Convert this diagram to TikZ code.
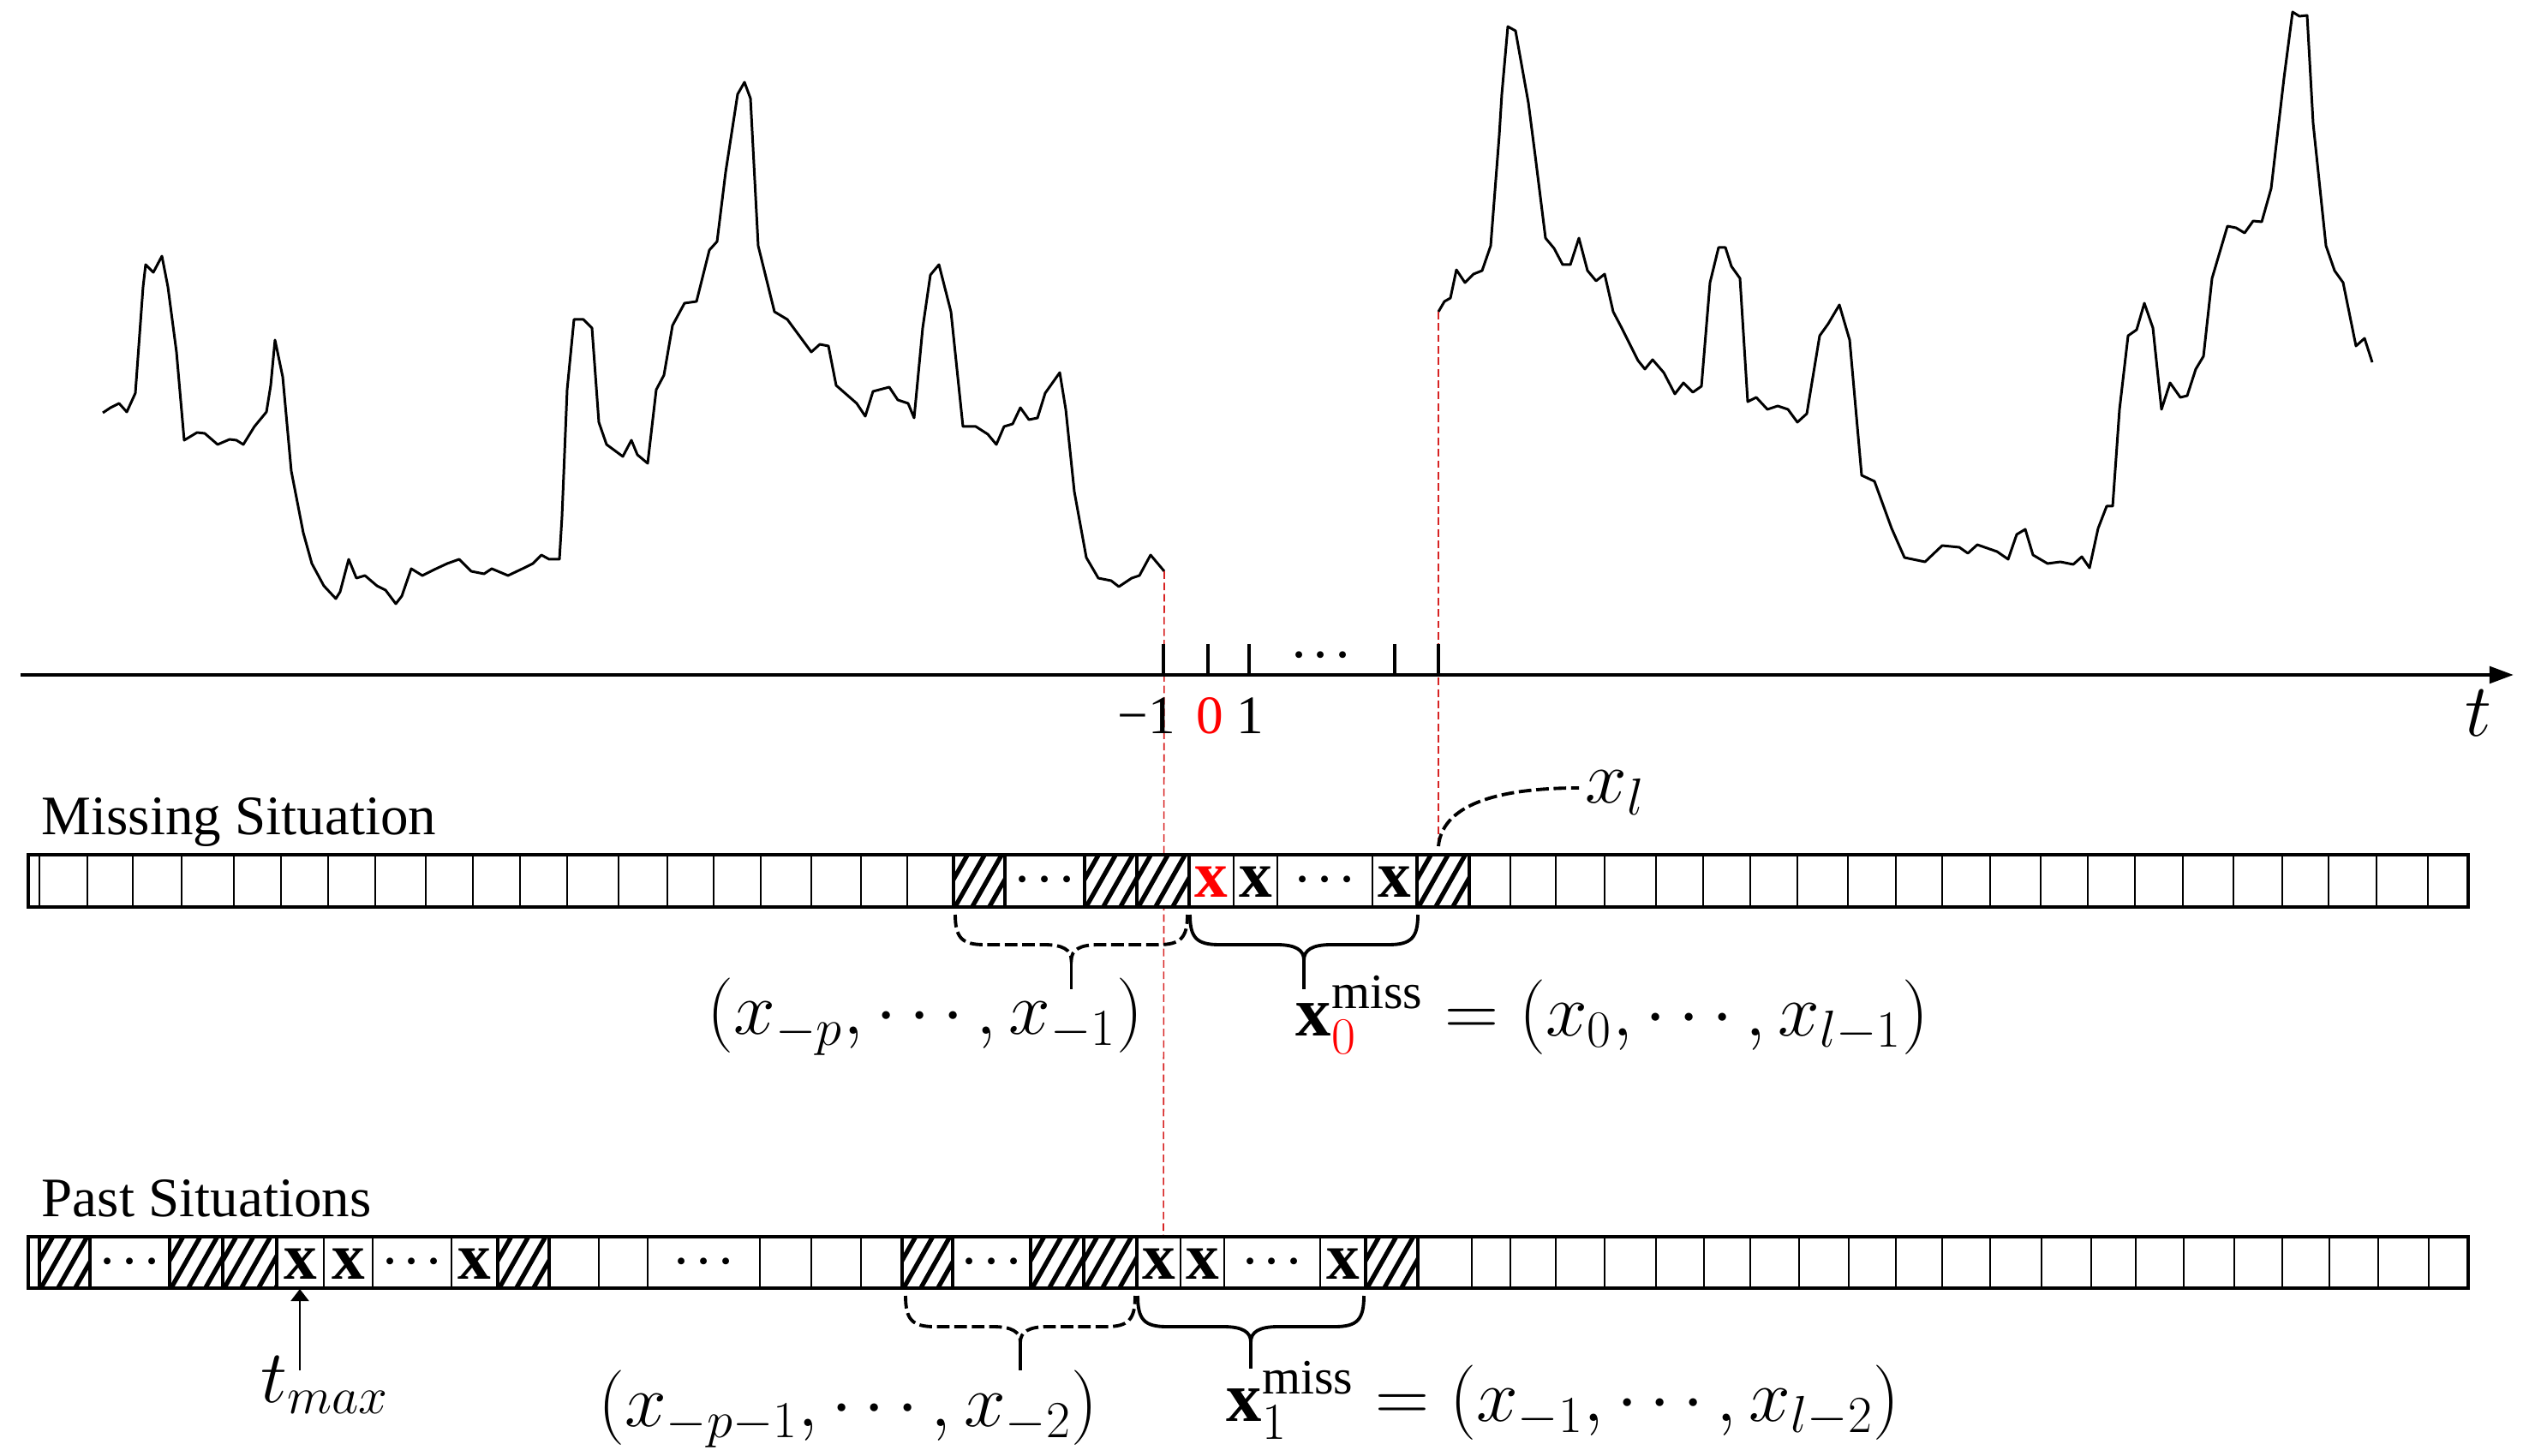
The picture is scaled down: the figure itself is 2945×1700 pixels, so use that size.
\documentclass[tikz,border=0pt]{standalone}
\usepackage{fontspec}
\setmainfont{Liberation Serif}
\usetikzlibrary{arrows.meta}
\definecolor{refred}{RGB}{255,0,0}
\definecolor{dashred}{RGB}{215,35,35}
\newcommand\hatchcell[4]{%
  \begin{scope}
    \clip (#1,#3) rectangle (#2,#4);
    \foreach \k in {-2,...,3} \draw[hatchline] ({#1+\k*20},#4+3) -- ++(38,-67);
  \end{scope}
  \draw[hatchframe] (#1,#3) rectangle (#2,#4);}
\newcommand\curlyb[7]{% style, xL, xR, ytop, yend, hoff, tipname
  \pgfmathsetmacro\cbm{(#2+#3)/2}
  \pgfmathsetmacro\cbh{#4+#6}
  \pgfmathsetmacro\cbt{#4+#6+18}
  \draw[#1] (#2,#4) .. controls (#2,#4+#6-8) and (#2+8,\cbh) .. (#2+34,\cbh) -- (\cbm-32,\cbh) .. controls (\cbm-10,\cbh) and (\cbm,\cbh+6) .. (\cbm,\cbt) .. controls (\cbm,\cbh+6) and (\cbm+10,\cbh) .. (\cbm+32,\cbh) -- (#3-34,\cbh) .. controls (#3-8,\cbh) and (#3,#4+#6-8) .. (#3,#4);
  \coordinate (#7) at (\cbm,\cbt);
  \draw[bracesolid] (#7) -- (\cbm,#5);}
\begin{document}
\begin{tikzpicture}[x=0.1mm,y=-0.1mm,
  curve/.style={line width=0.85pt, line join=round},
  axisline/.style={line width=1.3pt, -{Triangle[length=8pt,width=5.5pt]}},
  tickmark/.style={line width=1.1pt},
  barframe/.style={line width=1.1pt},
  sep/.style={line width=0.4pt},
  hatchline/.style={line width=1.5pt},
  hatchframe/.style={line width=1.2pt},
  reddash/.style={dashred, line width=0.45pt, dash pattern=on 2.5pt off 1.3pt},
  bracedash/.style={line width=1.1pt, dash pattern=on 4.2pt off 1.6pt},
  bracesolid/.style={line width=1.1pt},
  celltext/.style={font=\fontsize{22}{24}\selectfont\bfseries, inner sep=0pt},
  celldots/.style={font=\fontsize{14}{16}\selectfont\boldmath, inner sep=0pt},
  lab/.style={font=\fontsize{23.5}{26}\selectfont, inner sep=0pt},
  titletext/.style={font=\fontsize{18.5}{22}\selectfont, inner sep=0pt},
  ticklab/.style={font=\fontsize{18}{20}\selectfont, inner sep=0pt}]
\useasboundingbox (0,0) rectangle (2945,1700);

% ---------- time series ----------
\draw[curve] plot coordinates {(120,482) (129,476) (139,471) (148,481) (158,459) (167,335) (170,309) (179,318) (189,299) (196,335) (206,411) (215,514) (230,505) (239,506) (254,519) (268,513) (276,514) (284,519) (297,498) (311,481) (316,450) (321,397) (330,440) (340,550) (354,622) (364,658) (378,684) (392,699) (397,691) (407,653) (416,675) (426,672) (440,684) (450,689) (462,705) (469,696) (480,664) (493,672) (507,665) (522,658) (536,653) (550,667) (565,670) (574,664) (593,672) (612,663) (622,658) (632,648) (641,653) (653,653) (656,603) (662,455) (670,373) (681,373) (691,383) (699,493) (708,519) (727,533) (737,514) (744,531) (756,541) (766,455) (775,438) (785,380) (799,354) (813,352) (828,292) (837,282) (847,201) (861,110) (869,96) (876,115) (885,287) (904,364) (919,373) (933,392) (947,411) (957,402) (967,404) (976,450) (1000,471) (1010,486) (1019,457) (1038,452) (1048,467) (1060,471) (1067,488) (1077,383) (1086,321) (1096,309) (1110,364) (1124,498) (1139,498) (1153,507) (1163,519) (1172,498) (1182,495) (1191,476) (1201,490) (1211,488) (1220,459) (1237,435) (1244,478) (1254,574) (1268,651) (1282,675) (1297,678) (1306,685) (1321,675) (1330,672) (1343,648) (1359,667)};
\draw[curve] plot coordinates {(1679,364) (1686,352) (1693,348) (1700,315) (1710,330) (1720,320) (1730,316) (1740,287) (1750,158) (1753,110) (1760,31) (1769,36) (1784,120) (1792,182) (1804,278) (1814,290) (1824,309) (1833,309) (1843,278) (1853,316) (1863,328) (1873,320) (1883,364) (1893,383) (1912,421) (1920,431) (1929,420) (1942,435) (1955,460) (1965,447) (1976,458) (1986,451) (1996,330) (2006,289) (2014,289) (2021,311) (2031,325) (2040,469) (2050,464) (2063,478) (2075,474) (2087,478) (2098,493) (2109,483) (2124,392) (2134,378) (2147,356) (2159,397) (2173,555) (2188,562) (2208,617) (2223,651) (2247,656) (2267,637) (2287,639) (2297,646) (2308,636) (2331,644) (2344,653) (2354,624) (2364,618) (2373,648) (2390,658) (2405,656) (2420,659) (2430,650) (2439,663) (2449,617) (2459,591) (2466,591) (2474,478) (2484,392) (2494,385) (2503,354) (2513,383) (2523,478) (2533,447) (2545,464) (2553,462) (2563,431) (2572,416) (2582,325) (2600,264) (2610,266) (2620,272) (2630,258) (2640,259) (2651,220) (2666,91) (2676,14) (2684,19) (2693,18) (2700,144) (2715,287) (2725,316) (2735,330) (2750,404) (2760,395) (2769,423)};

% ---------- coordinates ----------
\coordinate (cEnd) at (1359,667);
\coordinate (cStart) at (1679,364);
\coordinate (pTop) at (1358,1444);
\coordinate (xls) at (1679,988);
\coordinate (xle) at (1843,920);
\coordinate (axL) at (24,788);
\coordinate (axR) at (2934,788);
\coordinate (tmaxTail) at (350,1600);
\coordinate (tmaxHead) at (350,1505);

% red dashed guide lines
\draw[reddash] (cEnd) -- (pTop);
\draw[reddash] (cStart) -- (xls);

% ---------- time axis ----------
\draw[axisline] (axL) -- (axR);
\foreach \tx in {1358,1410,1458,1628,1679} \draw[tickmark] (\tx,752) -- (\tx,788);
\node[celldots] (axdots) at (1542,766) {$\cdots$};
\node[ticklab, anchor=base] (tm1) at (1338,857) {−1};
\node[ticklab, anchor=base, text=refred] (t0) at (1412,857) {0};
\node[ticklab, anchor=base] (t1) at (1459,857) {1};
\node[lab, anchor=base] (tlab) at (2893,860) {$t$};

% ---------- Missing situation ----------
\node[titletext, anchor=base west] (msit) at (48,975) {Missing Situation};
\fill[white] (33,998) rectangle (2881,1059);
\foreach \sx in {46,102,155,212,273,328,383,438,497,552,607,662,722,779,833,888,947,1005,1059,1173,1266,1327,1388,1440,1491,1602,1654,1715,1763,1816,1873,1933,1988,2043,2098,2157,2213,2267,2323,2382,2437,2492,2548,2607,2664,2718,2774,2834}
  \draw[sep] (\sx,998) -- (\sx,1059);
\hatchcell{1113}{1173}{998}{1059}
\hatchcell{1266}{1327}{998}{1059}
\hatchcell{1327}{1388}{998}{1059}
\hatchcell{1654}{1715}{998}{1059}
\node[celldots] (md1) at (1219.5,1028) {$\cdots$};
\node[celltext, text=refred] (mx0) at (1414,1030) {x};
\node[celltext] (mx1) at (1465.5,1030) {x};
\node[celldots] (md2) at (1546.5,1028) {$\cdots$};
\node[celltext] (mx2) at (1628,1030) {x};
\draw[barframe] (33,998) rectangle (2881,1059);

\node[lab, anchor=base west] (xl) at (1850,938) {$x_l$};
\draw[bracedash] (xls) .. controls (1684,935) and (1760,920) .. (xle);

\curlyb{bracedash}{1115}{1386}{1068}{1155}{35}{mtipA}
\curlyb{bracesolid}{1389}{1655}{1068}{1155}{35}{mtipB}
\node[lab, anchor=base] (mlab1) at (1080,1207) {$(x_{-p},\cdots,x_{-1})$};
\node[lab, anchor=base west] (mlab2) at (1512,1209) {$\mathbf{x}_{\textcolor{refred}{0}}^{\mathrm{miss}}=(x_0,\cdots,x_{l-1})$};

% ---------- Past situations ----------
\node[titletext, anchor=base west] (psit) at (48,1420) {Past Situations};
\fill[white] (33,1444) rectangle (2881,1504);
\foreach \sx in {46,105,198,260,323,378,435,527,581,641,699,756,887,947,1005,1053,1112,1203,1265,1327,1378,1429,1541,1594,1655,1718,1763,1816,1873,1933,1989,2043,2100,2158,2213,2267,2323,2383,2441,2493,2549,2608,2664,2719,2776,2835}
  \draw[sep] (\sx,1444) -- (\sx,1504);
\hatchcell{46}{105}{1444}{1504}
\hatchcell{198}{260}{1444}{1504}
\hatchcell{260}{323}{1444}{1504}
\hatchcell{581}{641}{1444}{1504}
\hatchcell{1053}{1112}{1444}{1504}
\hatchcell{1203}{1265}{1444}{1504}
\hatchcell{1265}{1327}{1444}{1504}
\hatchcell{1594}{1655}{1444}{1504}
\node[celldots] (pd1) at (151.5,1474) {$\cdots$};
\node[celltext] (px1) at (350.5,1476) {x};
\node[celltext] (px2) at (406.5,1476) {x};
\node[celldots] (pd2) at (481,1474) {$\cdots$};
\node[celltext] (px3) at (554,1476) {x};
\node[celldots] (pd3) at (821.5,1474) {$\cdots$};
\node[celldots] (pd4) at (1157.5,1474) {$\cdots$};
\node[celltext] (px4) at (1352.5,1476) {x};
\node[celltext] (px5) at (1403.5,1476) {x};
\node[celldots] (pd5) at (1485,1474) {$\cdots$};
\node[celltext] (px6) at (1567.5,1476) {x};
\draw[barframe] (33,1444) rectangle (2881,1504);

\draw[line width=0.5pt, -{Triangle[length=4pt,width=6pt]}] (tmaxTail) -- (tmaxHead);
\node[lab, anchor=base west] (tmax) at (304,1637) {$t_{max}$};

\curlyb{bracedash}{1057}{1325}{1513}{1600}{36}{ptipA}
\curlyb{bracesolid}{1328}{1592}{1513}{1598}{36}{ptipB}
\node[lab, anchor=base] (plab1) at (990,1665) {$(x_{-p-1},\cdots,x_{-2})$};
\node[lab, anchor=base west] (plab2) at (1431,1659) {$\mathbf{x}_1^{\mathrm{miss}}=(x_{-1},\cdots,x_{l-2})$};
\end{tikzpicture}
\end{document}
